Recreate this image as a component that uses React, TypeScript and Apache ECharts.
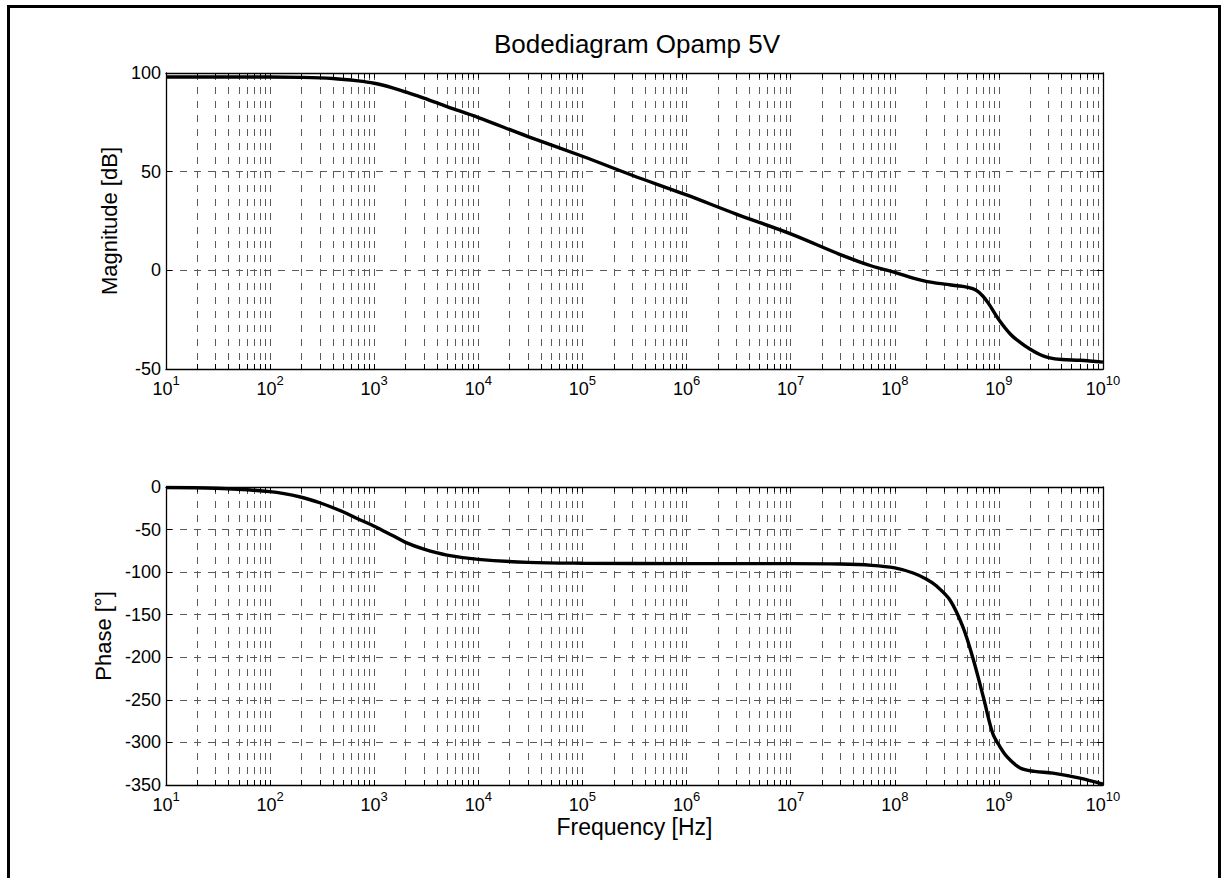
import React, { useEffect, useRef } from 'react';
import * as echarts from 'echarts';

// ---- Data ----
const magFreq = [10, 100, 200, 400, 700, 1000, 1500, 2000, 3000, 5000, 1e4, 3e4, 1e5, 3e5, 1e6, 3e6, 1e7, 3e7, 6e7, 1e8, 1.5e8, 2e8, 3e8, 4e8, 5e8, 6e8, 7e8, 8e8, 1e9, 1.3e9, 1.6e9, 2e9, 2.5e9, 3e9, 4e9, 6e9, 1e10];
const magDb = [98, 98, 97.8, 97.2, 96, 94.8, 92.5, 90.4, 87.3, 83, 77.4, 67.8, 57.8, 48.2, 38.2, 28.5, 18.5, 8, 2.2, -1, -4, -5.6, -7, -7.8, -8.6, -10, -13, -17, -25, -32.5, -36.5, -40, -42.8, -44.2, -45.2, -45.6, -46.5];

const phaseFreq = [10, 30, 100, 200, 300, 500, 700, 1000, 1500, 2000, 3000, 5000, 1e4, 3e4, 1e5, 1e6, 1e7, 3e7, 6e7, 1e8, 1.5e8, 2e8, 2.5e8, 3.4e8, 4.5e8, 5.6e8, 7.1e8, 8.7e8, 1e9, 1.2e9, 1.6e9, 2.2e9, 3.3e9, 6e9, 1e10];
const phaseDeg = [-0.5, -1.5, -5.5, -12, -18.5, -29, -37.5, -46, -57, -65, -73, -80, -85, -88.5, -89.5, -90, -90, -90.5, -92, -95, -101, -108, -116, -133, -164, -200, -247, -289, -303, -317, -330, -334, -336, -342, -349];

const decadeExponents = [1, 2, 3, 4, 5, 6, 7, 8, 9, 10];
const minorMultiples = [2, 3, 4, 5, 6, 7, 8, 9];
const magAxis = { min: -50, max: 100, interval: 50 };
const phaseAxis = { min: -350, max: 0, interval: 50 };

const titleText = 'Bodediagram Opamp 5V';
const magName = 'Magnitude [dB]';
const phaseName = 'Phase [°]';
const freqName = 'Frequency [Hz]';

const FONT = '"Liberation Sans", Arial, Helvetica, sans-serif';

export default function App() {
  const ref = useRef<HTMLDivElement>(null);

  useEffect(() => {
    if (!ref.current) return;
    const chart = echarts.init(ref.current, null, { renderer: 'svg' });

    const xTickVals: number[] = [];
    decadeExponents.forEach((e) => {
      xTickVals.push(e);
      if (e < 10) minorMultiples.forEach((m) => xTickVals.push(e + Math.log10(m)));
    });

    const gridLine = { show: true, lineStyle: { color: '#5a5a5a', width: 1, type: [7, 7] as number[] } };
    const axisLine = { show: true, onZero: false, lineStyle: { color: '#000', width: 1.3 } };

    const xMain = (gridIndex: number, withName: boolean) => ({
      type: 'value',
      gridIndex,
      position: 'bottom',
      min: 1,
      max: 10,
      interval: 1,
      name: withName ? freqName : '',
      nameLocation: 'middle',
      nameGap: 30,
      nameTextStyle: { fontFamily: FONT, fontSize: 23, color: '#000' },
      axisLine,
      axisTick: { show: true, inside: true, length: 5, customValues: xTickVals, lineStyle: { color: '#000', width: 1 } },
      axisLabel: {
        show: true,
        customValues: decadeExponents,
        margin: 5,
        formatter: (v: number) => `{b|10}{sup|${Math.round(v)}}`,
        rich: {
          b: { fontFamily: FONT, fontSize: 18, color: '#000', lineHeight: 30 },
          sup: { fontFamily: FONT, fontSize: 13, color: '#000', lineHeight: 13, verticalAlign: 'top' },
        },
      },
      splitLine: gridLine,
    });

    const xTop = (gridIndex: number) => ({
      type: 'value',
      gridIndex,
      position: 'top',
      min: 1,
      max: 10,
      interval: 1,
      axisLine,
      axisTick: { show: true, inside: true, length: 5, customValues: xTickVals, lineStyle: { color: '#000', width: 1 } },
      axisLabel: { show: false },
      splitLine: { show: false },
    });

    const yLeft = (gridIndex: number, cfg: any, name: string, gap: number) => ({
      type: 'value',
      gridIndex,
      position: 'left',
      min: cfg.min,
      max: cfg.max,
      interval: cfg.interval,
      name,
      nameLocation: 'middle',
      nameGap: gap,
      nameTextStyle: { fontFamily: FONT, fontSize: 22, color: '#000' },
      axisLine,
      axisTick: { show: true, inside: true, length: 6, lineStyle: { color: '#000', width: 1 } },
      axisLabel: { fontFamily: FONT, fontSize: 18, color: '#000', margin: 5 },
      splitLine: gridLine,
    });

    const yRight = (gridIndex: number, cfg: any) => ({
      type: 'value',
      gridIndex,
      position: 'right',
      min: cfg.min,
      max: cfg.max,
      interval: cfg.interval,
      axisLine,
      axisTick: { show: true, inside: true, length: 6, lineStyle: { color: '#000', width: 1 } },
      axisLabel: { show: false },
      splitLine: { show: false },
    });

    const curve = (name: string, xi: number, yi: number, fs: number[], vs: number[]) => ({
      type: 'line',
      name,
      xAxisIndex: xi,
      yAxisIndex: yi,
      data: fs.map((f, i) => [Math.log10(f), vs[i]]),
      showSymbol: false,
      symbol: 'none',
      smooth: 0.35,
      lineStyle: { color: '#000', width: 3.4 },
      z: 5,
    });

    chart.setOption({
      animation: false,
      backgroundColor: '#fff',
      grid: [
        { left: 166, top: 73, width: 937, height: 296 },
        { left: 166, top: 487, width: 937, height: 298 },
      ],
      graphic: [
        {
          type: 'rect',
          silent: true,
          shape: { x: 8.5, y: 6.5, width: 1211, height: 1000 },
          style: { fill: 'none', stroke: '#000', lineWidth: 3 },
        },
        {
          type: 'text',
          x: 637,
          y: 44,
          style: {
            text: titleText,
            fontFamily: FONT,
            fontSize: 26,
            fill: '#000',
            textAlign: 'center',
            textVerticalAlign: 'middle',
          },
        },
      ],
      xAxis: [xMain(0, false), xTop(0), xMain(1, true), xTop(1)],
      yAxis: [
        yLeft(0, magAxis, magName, 44),
        yRight(0, magAxis),
        yLeft(1, phaseAxis, phaseName, 46),
        yRight(1, phaseAxis),
      ],
      series: [
        curve('Magnitude', 0, 0, magFreq, magDb),
        curve('Phase', 2, 2, phaseFreq, phaseDeg),
      ],
    });

    return () => chart.dispose();
  }, []);

  return (
    <div
      ref={ref}
      style={{ position: 'fixed', left: 0, top: 0, width: 1223, height: 878, background: '#fff' }}
    />
  );
}
